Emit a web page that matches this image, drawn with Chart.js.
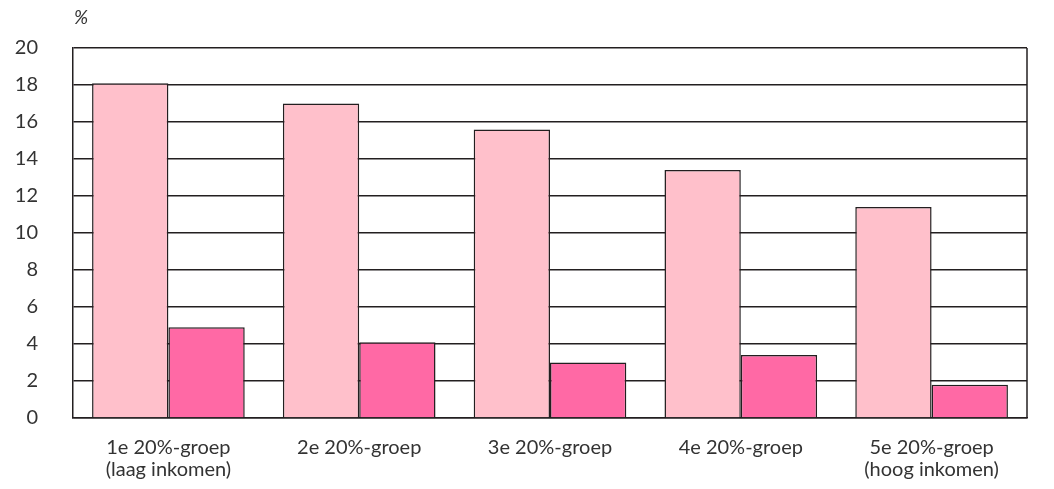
<!DOCTYPE html>
<html>
<head>
<meta charset="utf-8">
<script src="https://cdn.jsdelivr.net/npm/chart.js@4/dist/chart.umd.min.js"></script>
<style>
  html, body { margin: 0; padding: 0; background: #fff; }
  #wrap { width: 1054px; height: 489px; }
</style>
</head>
<body>
<div id="wrap"><canvas id="chart" width="1054" height="489"></canvas></div>
<script>
// categories and series
const categories = [
    ['1e 20%-groep', '(laag inkomen)'],
    '2e 20%-groep',
    '3e 20%-groep',
    '4e 20%-groep',
    ['5e 20%-groep', '(hoog inkomen)']
];
const seriesLight = [18.1, 17.0, 15.6, 13.4, 11.4];
const seriesDark = [4.9, 4.1, 3.0, 3.4, 1.8];
const yTicks = [0, 2, 4, 6, 8, 10, 12, 14, 16, 18, 20];

const lineColor = '#231F20';
const textColor = '#333333';
const fontFamily = 'Lato, "Open Sans", sans-serif';

// "%" unit label and the right-hand frame line
const framePlugin = {
    id: 'frame',
    afterDraw(chart) {
        const { ctx, chartArea } = chart;
        ctx.save();
        ctx.strokeStyle = lineColor;
        ctx.lineWidth = 1.5;
        ctx.beginPath();
        ctx.moveTo(chartArea.right, chartArea.top);
        ctx.lineTo(chartArea.right, chartArea.bottom);
        ctx.stroke();
        ctx.fillStyle = textColor;
        ctx.font = 'italic 19px ' + fontFamily;
        ctx.textAlign = 'left';
        ctx.textBaseline = 'middle';
        ctx.fillText('%', chartArea.left + 1, 18);
        ctx.restore();
    }
};

new Chart(document.getElementById('chart'), {
    type: 'bar',
    data: {
        labels: categories,
        datasets: [{
            data: seriesLight,
            backgroundColor: '#FFC0CB',
            borderColor: lineColor,
            borderWidth: 1.5
        }, {
            data: seriesDark,
            backgroundColor: '#FF69A5',
            borderColor: lineColor,
            borderWidth: 1.5
        }]
    },
    options: {
        responsive: false,
        animation: false,
        devicePixelRatio: 1,
        layout: { padding: { top: 48, right: 27, left: 0, bottom: 0 } },
        datasets: {
            bar: { categoryPercentage: 0.8, barPercentage: 1.0 }
        },
        plugins: {
            legend: { display: false },
            tooltip: { enabled: false }
        },
        scales: {
            x: {
                grid: { display: false },
                border: { display: true, color: lineColor, width: 1.5 },
                ticks: {
                    color: textColor,
                    font: { family: fontFamily, size: 20, lineHeight: 1.1 },
                    padding: 11,
                    maxRotation: 0,
                    autoSkip: false
                },
                afterFit(scale) { scale.height = 71; }
            },
            y: {
                min: 0,
                max: 20,
                afterBuildTicks(scale) {
                    scale.ticks = yTicks.map(v => ({ value: v }));
                },
                grid: { color: lineColor, lineWidth: 1.5, drawTicks: false },
                border: { display: true, color: lineColor, width: 1.5 },
                ticks: {
                    color: textColor,
                    font: { family: fontFamily, size: 20 },
                    padding: 35
                },
                afterFit(scale) { scale.width = 73; }
            }
        }
    },
    plugins: [framePlugin]
});
</script>
</body>
</html>
